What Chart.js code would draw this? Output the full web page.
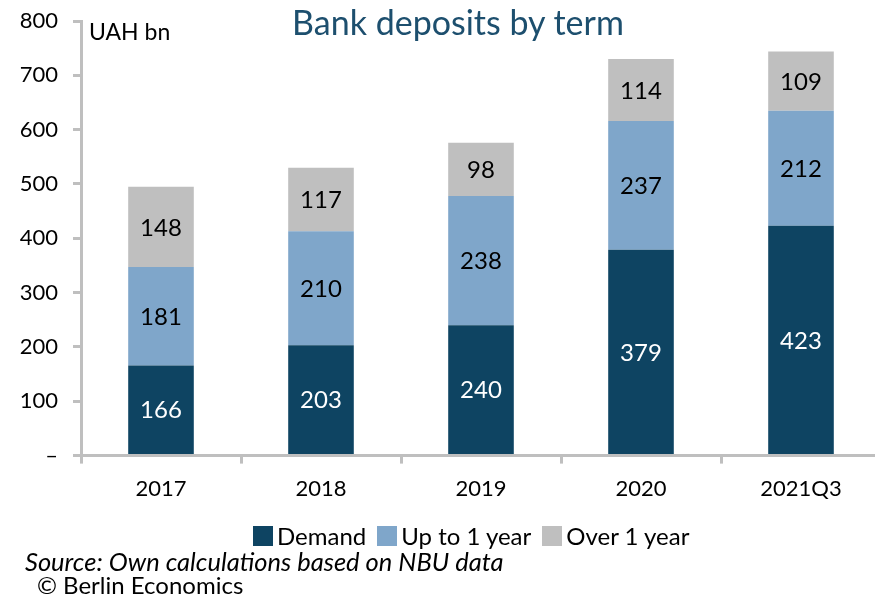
<!DOCTYPE html>
<html>
<head>
<meta charset="utf-8">
<script src="https://cdn.jsdelivr.net/npm/chart.js@4/dist/chart.umd.min.js"></script>
<style>
  html, body { margin: 0; padding: 0; background: #fff; overflow: hidden; }
  #wrap { position: relative; width: 890px; height: 595px; font-family: Lato, "Liberation Sans", sans-serif; }
  #chart { position: absolute; left: 0; top: 0; }
  .title { position: absolute; left: 458px; top: 1px; transform: translateX(-50%); font-size: 34px; color: #1d4f6e; white-space: nowrap; }
  .unit { position: absolute; left: 89px; top: 17px; font-size: 23px; color: #000; }
  .legend { position: absolute; left: 253px; top: 521px; display: flex; font-size: 24px; color: #000; white-space: nowrap; }
  .legend span { display: flex; align-items: center; margin-right: 11px; }
  .legend i { display: inline-block; width: 20px; height: 20px; margin-right: 4px; }
  .source { position: absolute; left: 25px; top: 546px; font-size: 25.5px; font-style: italic; color: #000; }
  .copy { position: absolute; left: 37px; top: 570px; font-size: 24px; color: #000; }
</style>
</head>
<body>
<div id="wrap">
  <canvas id="chart" width="890" height="595"></canvas>
  <div class="title">Bank deposits by term</div>
  <div class="unit">UAH bn</div>
  <div class="legend" id="legend"></div>
  <div class="source">Source: Own calculations based on NBU data</div>
  <div class="copy">© Berlin Economics</div>
</div>
<script>
const categories = ['2017', '2018', '2019', '2020', '2021Q3'];
const demand = [166, 203, 240, 379, 423];
const upToOneYear = [181, 210, 238, 237, 212];
const overOneYear = [148, 117, 98, 114, 109];
const yTicks = [0, 100, 200, 300, 400, 500, 600, 700, 800];

const FONT = 'Lato, "Liberation Sans", sans-serif';
const AXIS_GREY = '#bfbfbf';

// writes each segment's value in the middle of its bar piece
const segmentLabels = {
  id: 'segmentLabels',
  afterDatasetsDraw(chart) {
    const ctx = chart.ctx;
    ctx.save();
    ctx.font = '24px ' + FONT;
    ctx.textAlign = 'center';
    ctx.textBaseline = 'middle';
    chart.data.datasets.forEach((ds, i) => {
      const meta = chart.getDatasetMeta(i);
      meta.data.forEach((bar, j) => {
        ctx.fillStyle = ds.labelColor;
        ctx.fillText(String(ds.data[j]), bar.x, (bar.y + bar.base) / 2 + 1);
      });
    });
    ctx.restore();
  }
};

const ctx = document.getElementById('chart').getContext('2d');
const chart = new Chart(ctx, {
  type: 'bar',
  data: {
    labels: categories,
    datasets: [
      { label: 'Demand', data: demand, backgroundColor: '#0e4462', labelColor: '#ffffff' },
      { label: 'Up to 1 year', data: upToOneYear, backgroundColor: '#7fa6ca', labelColor: '#000000' },
      { label: 'Over 1 year', data: overOneYear, backgroundColor: '#bfbfbf', labelColor: '#000000' }
    ]
  },
  options: {
    responsive: false,
    animation: false,
    layout: { padding: { top: 21, right: 9, bottom: 81, left: 0 } },
    datasets: { bar: { categoryPercentage: 1, barPercentage: 0.41 } },
    plugins: {
      title: { display: false },
      tooltip: { enabled: false },
      legend: { display: false }
    },
    scales: {
      x: {
        stacked: true,
        grid: { drawOnChartArea: false, drawTicks: true, tickLength: 8, color: AXIS_GREY, lineWidth: 3 },
        border: { color: AXIS_GREY, width: 3 },
        ticks: { font: { size: 22, family: FONT }, color: '#000', padding: 12 }
      },
      y: {
        stacked: true,
        min: 0,
        max: 800,
        afterFit(scale) {
          scale.width = 81;
          scale.paddingTop = 0;
          scale.paddingBottom = 0;
        },
        afterBuildTicks(scale) { scale.ticks = yTicks.map(v => ({ value: v })); },
        grid: { drawOnChartArea: false, drawTicks: true, tickLength: 8, color: AXIS_GREY, lineWidth: 3 },
        border: { color: AXIS_GREY, width: 3 },
        ticks: {
          font: { size: 22, family: FONT },
          color: '#000',
          padding: 15,
          callback: v => v === 0 ? '–' : v
        }
      }
    }
  },
  plugins: [segmentLabels]
});

// legend built from the chart's own datasets
const legendEl = document.getElementById('legend');
chart.data.datasets.forEach(ds => {
  const item = document.createElement('span');
  const swatch = document.createElement('i');
  swatch.style.background = ds.backgroundColor;
  item.appendChild(swatch);
  item.appendChild(document.createTextNode(ds.label));
  legendEl.appendChild(item);
});
</script>
</body>
</html>
